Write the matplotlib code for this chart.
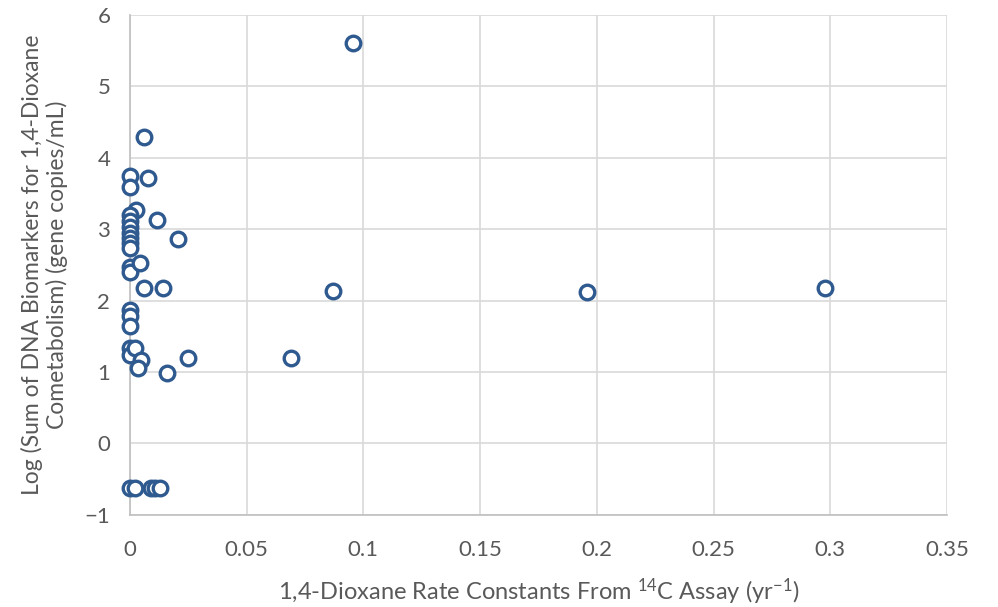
import matplotlib.pyplot as plt

plt.rcParams['font.family'] = ['Lato', 'DejaVu Sans']
plt.rcParams['mathtext.default'] = 'regular'

# rate constants (yr-1) and log biomarker sums
rate = [0.0956, 0.0063, 0.0, 0.0077, 0.0, 0.0027, 0.0116,
        0.0, 0.0, 0.0, 0.0, 0.0, 0.0, 0.0, 0.0208,
        0.0, 0.0, 0.0044, 0.0063, 0.0144, 0.0872, 0.1957, 0.2976,
        0.0, 0.0, 0.0,
        0.0, 0.0, 0.0023, 0.0048, 0.0037, 0.0158, 0.0251, 0.0689,
        0.0, 0.0023, 0.009, 0.011, 0.013]
logsum = [5.61, 4.29, 3.74, 3.71, 3.59, 3.27, 3.13,
          3.2, 3.12, 3.03, 2.95, 2.87, 2.8, 2.73, 2.86,
          2.47, 2.4, 2.53, 2.17, 2.17, 2.13, 2.12, 2.18,
          1.87, 1.79, 1.65,
          1.33, 1.24, 1.33, 1.17, 1.05, 0.98, 1.19, 1.19,
          -0.63, -0.63, -0.63, -0.63, -0.63]

fig = plt.figure(figsize=(9.98, 6.07), dpi=100)
ax = fig.add_axes([0.13, 0.152, 0.819, 0.8235])

ax.scatter(rate, logsum, s=110, facecolors='white', edgecolors='#2F5A8F',
           linewidths=2.4, zorder=3, clip_on=False)

ax.set_xlim(0, 0.35)
ax.set_ylim(-1, 6)
ax.set_xticks([0, 0.05, 0.1, 0.15, 0.2, 0.25, 0.3, 0.35])
ax.set_xticklabels(['0', '0.05', '0.1', '0.15', '0.2', '0.25', '0.3', '0.35'])
ax.set_yticks(range(-1, 7))

ax.grid(True, color='#D9D9D9', linewidth=1.2)
ax.set_axisbelow(True)
for s in ['top', 'right']:
    ax.spines[s].set_visible(False)
ax.spines['left'].set_color('#BFBFBF')
ax.spines['bottom'].set_color('#BFBFBF')
ax.spines['left'].set_linewidth(1.2)
ax.spines['bottom'].set_linewidth(1.2)
ax.tick_params(length=0, labelsize=16, colors='#595959')
ax.tick_params(axis='x', pad=18)
ax.tick_params(axis='y', pad=14)

ax.set_xlabel('1,4-Dioxane Rate Constants From $^{14}$C Assay (yr$^{-1}$)',
              fontsize=17, color='#595959', labelpad=12)
ax.set_ylabel('Log (Sum of DNA Biomarkers for 1,4-Dioxane\nCometabolism) (gene copies/mL)',
              fontsize=16.5, color='#595959', labelpad=12, linespacing=1.15)

fig.savefig('out.png', dpi=100)
